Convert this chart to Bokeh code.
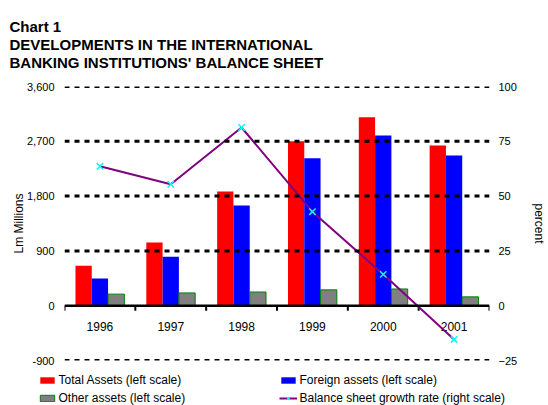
import numpy as np
from bokeh.plotting import figure
from bokeh.models import (Range1d, LinearAxis, FixedTicker, NumeralTickFormatter,
                          Span, Legend, LegendItem)
from bokeh.core.properties import value
from bokeh.embed import file_html
from bokeh.resources import INLINE

years = ["1996", "1997", "1998", "1999", "2000", "2001"]
total_assets = [655, 1040, 1875, 2700, 3095, 2630]
foreign_assets = [445, 805, 1645, 2420, 2795, 2465]
other_assets = [190, 210, 225, 260, 275, 145]
growth_rate = [63.6, 55.4, 81.3, 42.9, 14.3, -15.4]
left_ticks = [-900, 0, 900, 1800, 2700, 3600]
right_ticks = [-25, 0, 25, 50, 75, 100]
grid_ticks = [-900, 900, 1800, 2700, 3600]

FONT = "Liberation Sans"

xs = np.arange(len(years)) + 0.5
bounds = np.arange(len(years) + 1)
bw = 0.23

p = figure(frame_width=425, frame_height=274, output_backend="svg", toolbar_location=None,
           x_range=Range1d(0, len(years)), y_range=Range1d(left_ticks[0], left_ticks[-1]),
           x_axis_location=None, min_border_left=64, min_border_right=59,
           min_border_top=86, min_border_bottom=45,
           background_fill_color="white", border_fill_color="white",
           outline_line_color=None)
p.extra_y_ranges = {"pct": Range1d(right_ticks[0], right_ticks[-1])}

p.title.text = "Chart 1\nDEVELOPMENTS IN THE INTERNATIONAL\nBANKING INSTITUTIONS' BALANCE SHEET"
p.title.align = "left"
p.title.vertical_align = "top"
p.title.offset = -55
p.title.text_font = FONT
p.title.text_font_size = "15px"
p.title.text_font_style = "bold"
p.title.text_line_height = 1.08
p.title.standoff = 26
p.title.text_color = "black"

# grid (dotted reference lines)
p.xgrid.visible = False
p.ygrid.visible = False
for t in grid_ticks:
    p.add_layout(Span(location=t, dimension="width", line_color="black",
                      line_width=3, line_dash="5 5"))

# left axis
ax = p.yaxis[0]
ax.ticker = FixedTicker(ticks=left_ticks)
ax.formatter = NumeralTickFormatter(format="0,0")
ax.axis_line_color = None
ax.major_tick_line_color = None
ax.minor_tick_line_color = None
ax.major_tick_out = 0
ax.major_tick_in = 0
ax.minor_tick_out = 0
ax.minor_tick_in = 0
ax.major_label_text_font = FONT
ax.major_label_text_font_size = "11px"
ax.major_label_text_color = "black"
ax.major_label_standoff = 10
ax.axis_label = "Lm Millions"
ax.axis_label_text_font = FONT
ax.axis_label_text_font_size = "12px"
ax.axis_label_text_font_style = "normal"
ax.axis_label_text_color = "black"
ax.axis_label_standoff = -2

rax = LinearAxis(y_range_name="pct", ticker=FixedTicker(ticks=right_ticks),
                 axis_line_color=None, major_tick_line_color=None,
                 minor_tick_line_color=None, major_tick_out=0, major_tick_in=0,
                 minor_tick_out=0, minor_tick_in=0, major_label_text_font=FONT,
                 major_label_text_font_size="11px", major_label_text_color="black",
                 major_label_standoff=9, axis_label="percent",
                 axis_label_text_font=FONT, axis_label_text_font_size="12px",
                 axis_label_text_color="black",
                 axis_label_text_font_style="normal", axis_label_standoff=12)
p.add_layout(rax, "right")

# bars
r_total = p.vbar(x=xs - bw, top=total_assets, bottom=0, width=bw,
                 fill_color="#ff0000", line_color=None)
r_foreign = p.vbar(x=xs, top=foreign_assets, bottom=0, width=bw,
                   fill_color="#0000ff", line_color=None)
r_other = p.vbar(x=xs + bw, top=other_assets, bottom=0, width=bw,
                 fill_color="#808080", line_color="#008000", line_width=1)

# zero axis line and ticks
p.add_layout(Span(location=0, dimension="width", line_color="black", line_width=2.5))
p.ray(x=bounds, y=np.zeros(len(bounds)), length=5, length_units="screen",
      angle=-np.pi / 2, line_color="black", line_width=2)

# category labels
p.text(x=xs, y=np.zeros(len(xs)), text=years, y_offset=21,
       text_align="center", text_baseline="middle",
       text_font=value(FONT), text_font_size="12px", text_color="black")

# growth line
r_line = p.line(x=xs, y=growth_rate, y_range_name="pct", line_color="#800080", line_width=2)
r_mark = p.scatter(x=xs, y=growth_rate, y_range_name="pct", marker="x", size=9,
                   line_color="#00ffff", line_width=1.5)

leg = Legend(items=[LegendItem(label="Total Assets (left scale)", renderers=[r_total]),
                    LegendItem(label="Other assets (left scale)", renderers=[r_other]),
                    LegendItem(label="Foreign assets (left scale)", renderers=[r_foreign]),
                    LegendItem(label="Balance sheet growth rate (right scale)",
                               renderers=[r_line, r_mark])],
             location="top_center", ncols=2,
             label_text_font=FONT, label_text_font_size="12px",
             label_text_color="black", glyph_width=18, glyph_height=8,
             label_height=12, label_width=216, spacing=4, padding=0, margin=13,
             label_standoff=3, border_line_color=None,
             background_fill_alpha=0)
p.add_layout(leg, "below")

html = file_html(p, INLINE)
open("out.html", "w").write(html)
